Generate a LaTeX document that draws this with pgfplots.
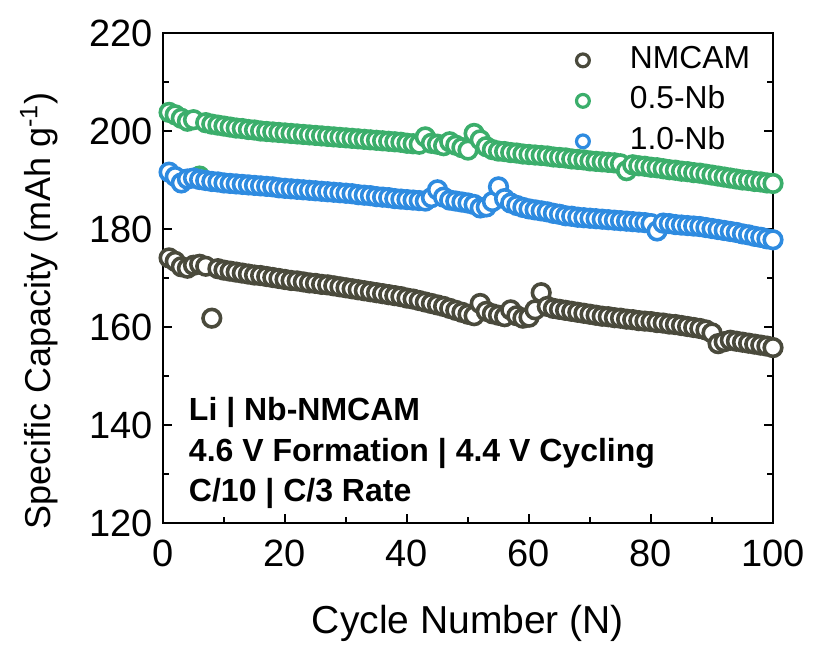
\documentclass[border=0pt]{standalone}
\usepackage{pgfplots}
\pgfplotsset{compat=1.18}
\usepackage{fontspec}
\setmainfont{Liberation Sans}
\definecolor{cNM}{HTML}{4A4A3C}
\definecolor{cG}{HTML}{3BAE6B}
\definecolor{cB}{HTML}{2E8BE0}
\begin{document}
\begin{tikzpicture}
\begin{axis}[
  scale only axis, width=305pt, height=245pt,
  xmin=0, xmax=100, ymin=120, ymax=220,
  xtick={0,20,...,100}, ytick={120,140,...,220},
  minor xtick={10,30,...,90}, minor ytick={130,150,...,210},
  xtick pos=lower, ytick pos=both, tick align=inside,
  major tick length=4.5pt, minor tick length=3pt,
  axis line style={line width=1pt},
  every tick/.style={line width=1pt, black},
  /pgf/number format/assume math mode=true,
  tick label style={font=\fontsize{19}{22}\selectfont},
  xticklabel style={anchor=base, yshift=-21.5pt},
  yticklabel style={anchor=east, xshift=-1.7pt},
  xlabel={Cycle Number (N)},
  ylabel={Specific Capacity (mAh g\textsuperscript{-1})},
  every axis x label/.style={at={(axis description cs:0.5,-0.2245)}, anchor=base, font=\fontsize{19.5}{22}\selectfont},
  every axis y label/.style={at={(axis description cs:-0.1852,-0.0286)}, anchor=base west, rotate=90, font=\fontsize{18}{22}\selectfont},
  legend cell align=left,
  legend style={at={(rel axis cs:0.672,0.9727)}, anchor=north west, draw=none, fill=none,
    inner sep=0pt, outer sep=0pt, font=\fontsize{15.9}{18}\selectfont,
    row sep=6.25pt, column sep=18.5pt,
    nodes={inner sep=0pt, text height=11pt, text depth=3pt}},
  legend image code/.code={\path[draw=none, fill=none] (-5pt,-5pt) rectangle (5pt,5pt);
    \draw[#1, mark size=3.2pt, mark options={line width=1.6pt, fill=white}] plot coordinates {(0pt,0pt)};},
]
\addplot[only marks, color=cNM, mark=*, mark size=4.4pt, mark options={fill=white, draw=cNM, line width=1.8pt}] table {
1 174.1
2 173.4
3 172.3
4 172.0
5 172.6
6 172.8
7 172.4
8 161.8
9 171.9
10 171.6
11 171.4
12 171.2
13 171.0
14 170.8
15 170.6
16 170.5
17 170.3
18 170.1
19 169.9
20 169.7
21 169.5
22 169.4
23 169.2
24 169.0
25 168.9
26 168.7
27 168.6
28 168.4
29 168.2
30 168.0
31 167.8
32 167.6
33 167.4
34 167.2
35 167.0
36 166.8
37 166.6
38 166.4
39 166.2
40 165.9
41 165.7
42 165.4
43 165.1
44 164.8
45 164.5
46 164.2
47 163.8
48 163.4
49 163.0
50 162.6
51 162.3
52 164.8
53 163.2
54 162.7
55 162.4
56 162.1
57 163.5
58 162.3
59 161.8
60 162.0
61 163.5
62 167.0
63 164.2
64 163.8
65 163.6
66 163.4
67 163.2
68 163.0
69 162.8
70 162.6
71 162.4
72 162.2
73 162.1
74 161.9
75 161.8
76 161.6
77 161.5
78 161.3
79 161.2
80 161.1
81 160.9
82 160.8
83 160.6
84 160.5
85 160.3
86 160.1
87 159.9
88 159.7
89 159.4
90 158.8
91 156.6
92 157.0
93 157.3
94 157.1
95 156.9
96 156.7
97 156.5
98 156.3
99 156.1
100 155.8
};
\addlegendentry{NMCAM}
\addplot[only marks, color=cG, mark=*, mark size=4.4pt, mark options={fill=white, draw=cG, line width=1.8pt}] table {
1 203.8
2 203.3
3 202.6
4 202.0
5 202.3
6 190.8
7 201.7
8 201.4
9 201.2
10 201.0
11 200.8
12 200.6
13 200.5
14 200.3
15 200.2
16 200.0
17 199.9
18 199.8
19 199.7
20 199.6
21 199.5
22 199.4
23 199.3
24 199.2
25 199.1
26 199.0
27 198.9
28 198.8
29 198.7
30 198.6
31 198.5
32 198.4
33 198.3
34 198.2
35 198.1
36 198.0
37 197.9
38 197.8
39 197.7
40 197.5
41 197.4
42 197.3
43 198.8
44 197.5
45 197.3
46 197.0
47 197.8
48 197.1
49 196.6
50 196.1
51 199.5
52 198.2
53 196.8
54 196.2
55 195.9
56 195.8
57 195.6
58 195.5
59 195.3
60 195.2
61 195.1
62 195.0
63 194.9
64 194.7
65 194.6
66 194.5
67 194.3
68 194.2
69 194.1
70 193.9
71 193.8
72 193.7
73 193.6
74 193.5
75 193.3
76 191.9
77 193.1
78 192.9
79 192.8
80 192.6
81 192.5
82 192.3
83 192.1
84 192.0
85 191.8
86 191.7
87 191.5
88 191.4
89 191.2
90 191.0
91 190.8
92 190.6
93 190.4
94 190.2
95 190.0
96 189.9
97 189.7
98 189.6
99 189.4
100 189.3
};
\addlegendentry{0.5-Nb}
\addplot[only marks, color=cB, mark=*, mark size=4.4pt, mark options={fill=white, draw=cB, line width=1.8pt}] table {
1 191.6
2 190.7
3 189.4
4 190.2
5 190.4
6 190.1
7 189.9
8 189.7
9 189.6
10 189.4
11 189.3
12 189.2
13 189.1
14 189.0
15 188.9
16 188.8
17 188.7
18 188.6
19 188.4
20 188.3
21 188.2
22 188.1
23 188.0
24 187.9
25 187.8
26 187.7
27 187.6
28 187.5
29 187.4
30 187.3
31 187.2
32 187.0
33 186.9
34 186.8
35 186.6
36 186.5
37 186.4
38 186.2
39 186.1
40 186.0
41 185.9
42 185.8
43 185.7
44 186.4
45 188.0
46 186.5
47 185.9
48 185.7
49 185.5
50 185.3
51 185.0
52 184.3
53 184.5
54 185.6
55 188.6
56 186.2
57 185.3
58 184.8
59 184.4
60 184.1
61 183.9
62 183.7
63 183.5
64 183.2
65 183.0
66 182.7
67 182.6
68 182.4
69 182.3
70 182.2
71 182.1
72 182.0
73 181.9
74 181.8
75 181.7
76 181.6
77 181.5
78 181.4
79 181.3
80 181.1
81 179.6
82 181.2
83 181.1
84 180.9
85 180.8
86 180.7
87 180.6
88 180.5
89 180.3
90 180.1
91 179.9
92 179.7
93 179.5
94 179.3
95 179.0
96 178.8
97 178.5
98 178.3
99 178.0
100 177.8
};
\addlegendentry{1.0-Nb}
\node[anchor=base west, font=\fontsize{16}{18}\selectfont\bfseries] at (axis cs:3.1,140.92) {Li | Nb-NMCAM};
\node[anchor=base west, font=\fontsize{16}{18}\selectfont\bfseries] at (axis cs:3.1,132.65) {4.6 V Formation | 4.4 V Cycling};
\node[anchor=base west, font=\fontsize{16}{18}\selectfont\bfseries] at (axis cs:3.1,124.35) {C/10 | C/3 Rate};
\end{axis}
\pgfresetboundingbox
\path[use as bounding box] (-81.5pt,-60.5pt) rectangle (325.5pt,261.5pt);
\end{tikzpicture}
\end{document}
